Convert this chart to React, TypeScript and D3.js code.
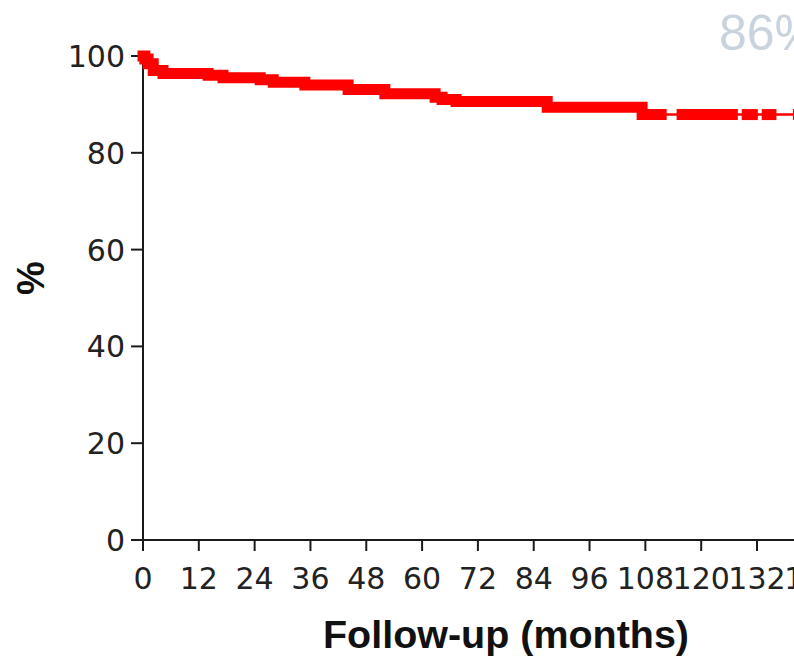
import React from "react";
import * as d3 from "d3";

// Kaplan-Meier step data
const eventMonths = [0, 0.4, 1.1, 2.2, 4.3, 14.0, 17.2, 25.2, 28.0, 34.8, 44.1, 52.0, 62.8, 64.3, 67.3, 86.9, 107.3];
const survivalPct = [100, 99.4, 98.4, 97.0, 96.4, 96.0, 95.5, 95.1, 94.6, 94.0, 93.1, 92.2, 91.5, 91.0, 90.6, 89.4, 87.9];
const lastMonth = 146;

// spans where censoring marks are dense (drawn as a heavy band)
const censorStart = [0, 115.9, 129.9, 134.2, 140.9];
const censorEnd = [111.4, 126.7, 131.0, 135.0, 146];

const xTicks = [0, 12, 24, 36, 48, 60, 72, 84, 96, 108, 120, 132, 144];
const yTicks = [0, 20, 40, 60, 80, 100];

const xTitle = "Follow-up (months)";
const yTitle = "%";
const cornerLabel = "86%";

export default function App() {
  const W = 794;
  const H = 659;
  const x = d3.scaleLinear().domain([0, 132]).range([143, 757]);
  const y = d3.scaleLinear().domain([0, 100]).range([540, 56]);

  const pts: [number, number][] = eventMonths.map((t, i) => [t, survivalPct[i]]);
  pts.push([lastMonth, survivalPct[survivalPct.length - 1]]);

  const valueAt = (t: number) => {
    let v = survivalPct[0];
    for (let i = 0; i < eventMonths.length; i++) if (eventMonths[i] <= t) v = survivalPct[i];
    return v;
  };

  const line = d3
    .line<[number, number]>()
    .x((d) => x(d[0]))
    .y((d) => y(d[1]))
    .curve(d3.curveStepAfter);

  const segs = censorStart.map((s, k) => {
    const e = censorEnd[k];
    const sp: [number, number][] = [[s, valueAt(s)]];
    eventMonths.forEach((t, i) => {
      if (t > s && t < e) sp.push([t, survivalPct[i]]);
    });
    sp.push([e, valueAt(e)]);
    return sp;
  });

  const font = "'DejaVu Sans', Verdana, sans-serif";
  const axisColor = "#1a1a1a";

  return (
    <svg
      width={W}
      height={H}
      viewBox={`0 0 ${W} ${H}`}
      style={{ position: "absolute", left: 0, top: 0, background: "#fff" }}
    >
      <rect x={0} y={0} width={W} height={H} fill="#fff" />
      {/* corner label (cut by the right edge, as in the reference) */}
      <text
        x={719}
        y={50}
        fontFamily="'Liberation Sans', Arial, sans-serif"
        fontSize={50}
        fill="#c9d3de"
      >
        {cornerLabel}
      </text>

      {/* axes */}
      <line x1={x(0)} y1={y(100)} x2={x(0)} y2={y(0) + 11} stroke={axisColor} strokeWidth={2} />
      <line x1={x(0) - 12} y1={y(0)} x2={W + 10} y2={y(0)} stroke={axisColor} strokeWidth={2} />
      {yTicks.map((v) => (
        <g key={"y" + v}>
          <line x1={x(0) - 12} x2={x(0)} y1={y(v)} y2={y(v)} stroke={axisColor} strokeWidth={2} />
          <text
            x={x(0) - 18}
            y={y(v) + 11}
            textAnchor="end"
            fontFamily={font}
            fontSize={30}
            fill="#222"
          >
            {v}
          </text>
        </g>
      ))}
      {xTicks.map((v) => (
        <g key={"x" + v}>
          <line x1={x(v)} x2={x(v)} y1={y(0)} y2={y(0) + 11} stroke={axisColor} strokeWidth={2} />
          <text
            x={x(v)}
            y={589}
            textAnchor="middle"
            fontFamily={font}
            fontSize={30}
            fill="#222"
          >
            {v}
          </text>
        </g>
      ))}

      {/* survival curve */}
      <path d={line(pts) || ""} fill="none" stroke="#ff0000" strokeWidth={2.5} />
      {segs.map((sp, k) => (
        <path
          key={"c" + k}
          d={line(sp) || ""}
          fill="none"
          stroke="#ff0000"
          strokeWidth={11}
          strokeLinecap="square"
          strokeLinejoin="miter"
        />
      ))}

      {/* titles */}
      <text
        x={506}
        y={648}
        textAnchor="middle"
        fontFamily="'Liberation Sans', Arial, sans-serif"
        fontWeight="bold"
        fontSize={38}
        textLength={366}
        lengthAdjust="spacingAndGlyphs"
        fill="#111"
      >
        {xTitle}
      </text>
      <text
        transform={`translate(44, 278) rotate(-90)`}
        textAnchor="middle"
        fontFamily="'Liberation Sans', Arial, sans-serif"
        fontWeight="bold"
        fontSize={38}
        fill="#111"
      >
        {yTitle}
      </text>
    </svg>
  );
}
